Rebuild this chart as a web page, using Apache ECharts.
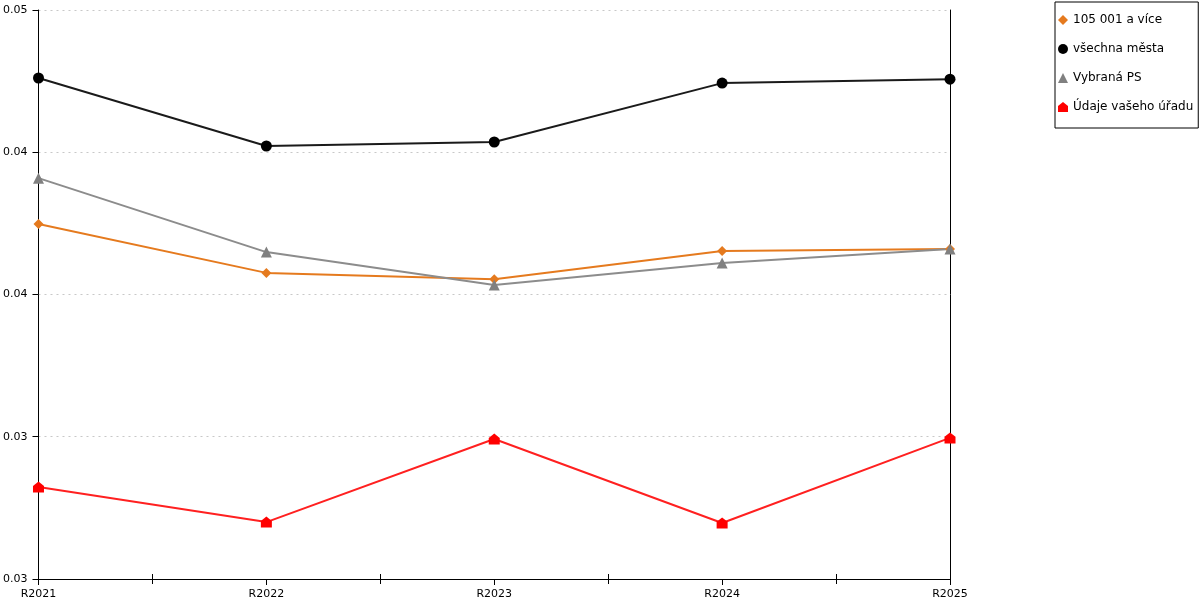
<!DOCTYPE html>
<html><head><meta charset="utf-8">
<script src="https://cdn.jsdelivr.net/npm/echarts@6/dist/echarts.min.js"></script>
<style>html,body{margin:0;padding:0;background:#fff}#c{width:1200px;height:600px}</style>
</head><body><div id="c"></div>
<script>
const categories = ['R2021','R2022','R2023','R2024','R2025'];
const seriesNames = ['105 001 a více','všechna města','Vybraná PS','Údaje vašeho úřadu'];
const orangeValues = [0.04248, 0.04076, 0.04054, 0.04153, 0.04160];
const blackValues = [0.04761, 0.04522, 0.04536, 0.04743, 0.04757];
const grayValues = [0.04409, 0.04149, 0.04033, 0.04111, 0.04160];
const redValues = [0.03323, 0.03200, 0.03492, 0.03197, 0.03496];
const yMin = 0.03, yMax = 0.05, yInterval = 0.005;

const house = 'path://M0,4 L5,0 L10,4 L10,10 L0,10 Z';
const font = 'DejaVu Sans';
const chart = echarts.init(document.getElementById('c'));
chart.setOption({
  animation: false,
  textStyle: {fontFamily: font},
  grid: {left: 38, right: 250, top: 10, bottom: 21, containLabel: false},
  legend: {
    orient: 'vertical', left: 1055, top: 2,
    borderColor: '#000', borderWidth: 1, borderRadius: 0,
    padding: [12, 5, 15, 3],
    itemWidth: 10, itemHeight: 10, itemGap: 17,
    textStyle: {fontFamily: font, fontSize: 12, color: '#000'},
    data: [
      {name: seriesNames[0], icon: 'diamond'},
      {name: seriesNames[1], icon: 'circle'},
      {name: seriesNames[2], icon: 'triangle'},
      {name: seriesNames[3], icon: house}
    ]
  },
  xAxis: [{
    type: 'category', data: categories, boundaryGap: false,
    axisLine: {lineStyle: {color: '#000', width: 1}},
    axisTick: {show: true, length: 6, lineStyle: {color: '#000'}},
    axisLabel: {color: '#000', fontSize: 11, fontFamily: font, margin: 10},
    splitLine: {show: false}
  }, {
    type: 'value', min: 0, max: 4, interval: 1, position: 'bottom', offset: -5,
    axisLine: {show: false}, axisTick: {show: false}, axisLabel: {show: false},
    splitLine: {show: false},
    minorTick: {show: true, splitNumber: 2, length: 10, lineStyle: {color: '#000', width: 1}}
  }],
  yAxis: [{
    type: 'value', min: yMin, max: yMax, interval: yInterval,
    axisLine: {show: true, lineStyle: {color: '#000'}},
    axisTick: {show: true, length: 6, lineStyle: {color: '#000'}},
    axisLabel: {color: '#000', fontSize: 11, fontFamily: font, margin: 11,
      formatter: v => (Math.floor(v * 100 + 1e-9) / 100).toFixed(2)},
    splitLine: {show: true, lineStyle: {color: '#c8c8c8', type: [2, 4], width: 1}}
  }, {
    type: 'value', min: yMin, max: yMax, interval: yInterval, position: 'right',
    axisLine: {show: true, lineStyle: {color: '#000'}},
    axisTick: {show: false}, axisLabel: {show: false}, splitLine: {show: false}
  }],
  series: [
    {name: seriesNames[0], type: 'line', data: orangeValues, symbol: 'diamond', symbolSize: 10,
     itemStyle: {color: '#e57a1e'}, lineStyle: {color: '#e57a1e', width: 2}},
    {name: seriesNames[1], type: 'line', data: blackValues, symbol: 'circle', symbolSize: 11,
     itemStyle: {color: '#000'}, lineStyle: {color: '#1a1a1a', width: 2}},
    {name: seriesNames[2], type: 'line', data: grayValues, symbol: 'triangle', symbolSize: 11,
     itemStyle: {color: '#808080'}, lineStyle: {color: '#8c8c8c', width: 2}},
    {name: seriesNames[3], type: 'line', data: redValues, symbol: house, symbolSize: 11,
     itemStyle: {color: '#ff0000'}, lineStyle: {color: '#ff2020', width: 2}}
  ]
});
</script></body></html>
